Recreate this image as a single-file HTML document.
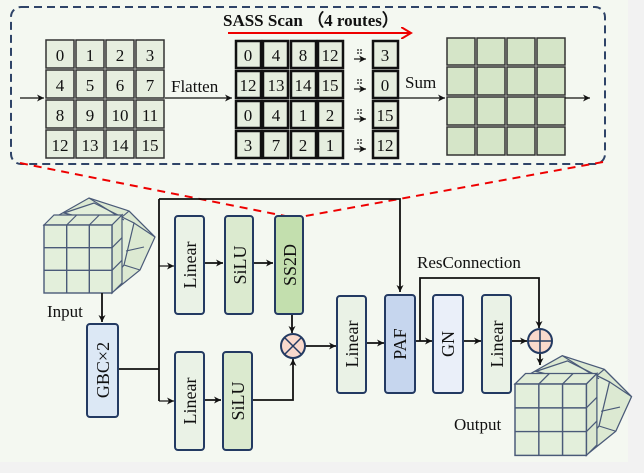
<!DOCTYPE html>
<html><head><meta charset="utf-8"><style>
html,body{margin:0;padding:0;background:#f2f2f2;}
svg{display:block;font-family:"Liberation Serif",serif;}
</style></head><body>
<svg width="644" height="473" viewBox="0 0 644 473" xmlns="http://www.w3.org/2000/svg">
<defs>
<marker id="ar" markerWidth="8" markerHeight="8" refX="7" refY="4" orient="auto" markerUnits="userSpaceOnUse"><path d="M0,0.5 L7,4 L0,7.5 L2,4 Z" fill="#111"/></marker>
<marker id="rr" markerWidth="12" markerHeight="12" refX="10" refY="6" orient="auto" markerUnits="userSpaceOnUse"><path d="M0,0 L10,6 L0,12" fill="none" stroke="#e00" stroke-width="2"/></marker>
<g id="cube">
 <polygon points="15,-10 45,-27 85,-14 111,12 96,45 70,66 68,0" fill="#dce9d2" stroke="#4a5a78" stroke-width="1.2"/>
 <polygon points="20,-12 50,-22 90,-2 80,40 68,55 68,0" fill="#e2eeda" stroke="#4a5a78" stroke-width="1.2"/>
 <path d="M45,-27L80,-5M85,-14L111,12M90,-2L111,12M85,-14L78,-8M96,45L80,40M100,22L82,26" stroke="#4a5a78" stroke-width="1.1" fill="none"/>
 <polygon points="0,0 10,-10 78,-10 68,0" fill="#e1edd8" stroke="#4a5a78" stroke-width="1.2"/>
 <polygon points="68,0 78,-10 78,58 68,68" fill="#dae7d0" stroke="#4a5a78" stroke-width="1.2"/>
 <line x1="22.7" y1="0" x2="32.7" y2="-10" stroke="#4a5a78" stroke-width="1.2"/>
 <line x1="45.3" y1="0" x2="55.3" y2="-10" stroke="#4a5a78" stroke-width="1.2"/>
 <line x1="68" y1="22.7" x2="78" y2="12.7" stroke="#4a5a78" stroke-width="1.2"/>
 <line x1="68" y1="45.3" x2="78" y2="35.3" stroke="#4a5a78" stroke-width="1.2"/>
 <rect x="0" y="0" width="68" height="68" fill="#e3efdb" stroke="#4a5a78" stroke-width="1.4"/>
 <path d="M22.7,0V68M45.3,0V68M0,22.7H68M0,45.3H68" stroke="#4a5a78" stroke-width="1.4"/>
</g>
</defs>
<rect x="0" y="0" width="628" height="462" fill="#f4f8f1"/>
<rect x="11" y="7" width="594" height="157" rx="10" fill="none" stroke="#2f4468" stroke-width="2" stroke-dasharray="8,5"/>
<text x="223" y="26" font-size="17" font-weight="bold" fill="#111">SASS Scan （4 routes）</text>
<line x1="228" y1="33" x2="411" y2="33" stroke="#e00" stroke-width="2" marker-end="url(#rr)"/>
<g stroke="#333" stroke-width="1.5" fill="#e6eedf">
<rect x="46" y="40" width="28" height="28"/><rect x="76" y="40" width="28" height="28"/><rect x="106" y="40" width="28" height="28"/><rect x="136" y="40" width="28" height="28"/>
<rect x="46" y="70" width="28" height="28"/><rect x="76" y="70" width="28" height="28"/><rect x="106" y="70" width="28" height="28"/><rect x="136" y="70" width="28" height="28"/>
<rect x="46" y="100" width="28" height="28"/><rect x="76" y="100" width="28" height="28"/><rect x="106" y="100" width="28" height="28"/><rect x="136" y="100" width="28" height="28"/>
<rect x="46" y="130" width="28" height="28"/><rect x="76" y="130" width="28" height="28"/><rect x="106" y="130" width="28" height="28"/><rect x="136" y="130" width="28" height="28"/>
</g>
<g stroke="#111" stroke-width="2.5" fill="#e6eedf">
<rect x="236" y="41" width="25" height="27"/><rect x="263" y="41" width="25" height="27"/><rect x="291" y="41" width="25" height="27"/><rect x="318" y="41" width="25" height="27"/>
<rect x="236" y="71" width="25" height="27"/><rect x="263" y="71" width="25" height="27"/><rect x="291" y="71" width="25" height="27"/><rect x="318" y="71" width="25" height="27"/>
<rect x="236" y="101" width="25" height="27"/><rect x="263" y="101" width="25" height="27"/><rect x="291" y="101" width="25" height="27"/><rect x="318" y="101" width="25" height="27"/>
<rect x="236" y="131" width="25" height="27"/><rect x="263" y="131" width="25" height="27"/><rect x="291" y="131" width="25" height="27"/><rect x="318" y="131" width="25" height="27"/>
<rect x="373" y="41" width="25" height="27"/><rect x="373" y="71" width="25" height="27"/><rect x="373" y="101" width="25" height="27"/><rect x="373" y="131" width="25" height="27"/>
</g>
<g stroke="#333" stroke-width="1.5" fill="#d5e5c8">
<rect x="447" y="38" width="28" height="27"/><rect x="477" y="38" width="28" height="27"/><rect x="507" y="38" width="28" height="27"/><rect x="537" y="38" width="28" height="27"/>
<rect x="447" y="67" width="28" height="28"/><rect x="477" y="67" width="28" height="28"/><rect x="507" y="67" width="28" height="28"/><rect x="537" y="67" width="28" height="28"/>
<rect x="447" y="97" width="28" height="28"/><rect x="477" y="97" width="28" height="28"/><rect x="507" y="97" width="28" height="28"/><rect x="537" y="97" width="28" height="28"/>
<rect x="447" y="127" width="28" height="28"/><rect x="477" y="127" width="28" height="28"/><rect x="507" y="127" width="28" height="28"/><rect x="537" y="127" width="28" height="28"/>
</g>
<g font-size="17" fill="#111" text-anchor="middle">
<text x="60" y="61">0</text><text x="90" y="61">1</text><text x="120" y="61">2</text><text x="150" y="61">3</text>
<text x="60" y="91">4</text><text x="90" y="91">5</text><text x="120" y="91">6</text><text x="150" y="91">7</text>
<text x="60" y="121">8</text><text x="90" y="121">9</text><text x="120" y="121">10</text><text x="150" y="121">11</text>
<text x="60" y="151">12</text><text x="90" y="151">13</text><text x="120" y="151">14</text><text x="150" y="151">15</text>
<text x="248" y="61">0</text><text x="276" y="61">4</text><text x="303" y="61">8</text><text x="330" y="61">12</text>
<text x="248" y="91">12</text><text x="276" y="91">13</text><text x="303" y="91">14</text><text x="330" y="91">15</text>
<text x="248" y="121">0</text><text x="276" y="121">4</text><text x="303" y="121">1</text><text x="330" y="121">2</text>
<text x="248" y="151">3</text><text x="276" y="151">7</text><text x="303" y="151">2</text><text x="330" y="151">1</text>
<text x="385" y="61">3</text><text x="385" y="91">0</text><text x="385" y="121">15</text><text x="385" y="151">12</text>
</g>
<g fill="#111">
<circle cx="358" cy="50" r="0.9"/><circle cx="361" cy="50" r="0.9"/><circle cx="358" cy="53" r="0.9"/><circle cx="361" cy="53" r="0.9"/>
<circle cx="358" cy="80" r="0.9"/><circle cx="361" cy="80" r="0.9"/><circle cx="358" cy="83" r="0.9"/><circle cx="361" cy="83" r="0.9"/>
<circle cx="358" cy="110" r="0.9"/><circle cx="361" cy="110" r="0.9"/><circle cx="358" cy="113" r="0.9"/><circle cx="361" cy="113" r="0.9"/>
<circle cx="358" cy="140" r="0.9"/><circle cx="361" cy="140" r="0.9"/><circle cx="358" cy="143" r="0.9"/><circle cx="361" cy="143" r="0.9"/>
</g>
<g stroke="#111" stroke-width="1.2" marker-end="url(#ar)">
<line x1="354" y1="59" x2="366" y2="59"/><line x1="354" y1="89" x2="366" y2="89"/><line x1="354" y1="119" x2="366" y2="119"/><line x1="354" y1="149" x2="366" y2="149"/>
<line x1="20" y1="98" x2="44" y2="98"/><line x1="165" y1="98" x2="232" y2="98"/><line x1="399" y1="98" x2="445" y2="98"/><line x1="565" y1="98" x2="590" y2="98"/>
</g>
<text x="171" y="92" font-size="17" fill="#111">Flatten</text>
<text x="405" y="88" font-size="17" fill="#111">Sum</text>
<line x1="20" y1="163" x2="290" y2="217" stroke="#e00" stroke-width="2" stroke-dasharray="8,6"/>
<line x1="603" y1="162" x2="300" y2="217" stroke="#e00" stroke-width="2" stroke-dasharray="8,6"/>
<use href="#cube" x="44" y="225"/>
<use href="#cube" transform="translate(515,384) scale(1.05)"/>
<text x="47" y="317" font-size="17" fill="#111">Input</text>
<text x="454" y="430" font-size="17" fill="#111">Output</text>
<g stroke="#111" stroke-width="1.8" fill="none">
<line x1="102" y1="293" x2="102" y2="322" marker-end="url(#ar)"/>
<polyline points="118,369 159,369"/>
<polyline points="159,199 400,199 400,292" marker-end="url(#ar)"/>
<line x1="159" y1="199" x2="159" y2="401"/>
<line x1="159" y1="266" x2="174" y2="266" marker-end="url(#ar)" stroke-width="1.2"/>
<line x1="159" y1="401" x2="174" y2="401" marker-end="url(#ar)" stroke-width="1.2"/>
<line x1="204" y1="263" x2="223" y2="263" marker-end="url(#ar)"/>
<line x1="253" y1="263" x2="273" y2="263" marker-end="url(#ar)"/>
<line x1="204" y1="400" x2="221" y2="400" marker-end="url(#ar)"/>
<line x1="292" y1="314" x2="292" y2="333" marker-end="url(#ar)"/>
<polyline points="252,400 293,400 293,359" marker-end="url(#ar)"/>
<line x1="305" y1="346" x2="336" y2="346" marker-end="url(#ar)"/>
<line x1="366" y1="343" x2="384" y2="343" marker-end="url(#ar)"/>
<line x1="415" y1="341" x2="432" y2="341" marker-end="url(#ar)"/>
<line x1="463" y1="341" x2="481" y2="341" marker-end="url(#ar)"/>
<line x1="511" y1="341" x2="527" y2="341" marker-end="url(#ar)"/>
<polyline points="420,341 420,278 539,278 539,328" marker-end="url(#ar)"/>
<line x1="540" y1="353" x2="540" y2="365" marker-end="url(#ar)"/>
</g>
<text x="417" y="268" font-size="17" fill="#111">ResConnection</text>
<g stroke="#233a62" stroke-width="2">
<rect x="87" y="324" width="31" height="93" rx="3" fill="#dce8f5"/>
<rect x="175" y="216" width="29" height="98" rx="3" fill="#eaf2e6"/>
<rect x="225" y="216" width="28" height="98" rx="3" fill="#dbeacf"/>
<rect x="275" y="216" width="28" height="98" rx="3" fill="#c3dfae"/>
<rect x="175" y="352" width="29" height="98" rx="3" fill="#eaf2e6"/>
<rect x="223" y="352" width="29" height="98" rx="3" fill="#dbeacf"/>
<rect x="337" y="296" width="29" height="97" rx="3" fill="#eaf2e6"/>
<rect x="385" y="295" width="30" height="98" rx="3" fill="#c6d6ee"/>
<rect x="433" y="295" width="30" height="98" rx="3" fill="#eaeff9"/>
<rect x="482" y="295" width="29" height="98" rx="3" fill="#eaf2e6"/>
<circle cx="293" cy="346" r="12" fill="#f9d9cc"/>
<circle cx="540" cy="341" r="12" fill="#f9d9cc"/>
</g>
<path d="M284.5,337.5L301.5,354.5M301.5,337.5L284.5,354.5" stroke="#233a62" stroke-width="1.5"/>
<path d="M528,341H552M540,329V353" stroke="#233a62" stroke-width="1.5"/>
<g font-size="18" fill="#111" text-anchor="middle">
<text transform="translate(109,370) rotate(-90)">GBC×2</text>
<text transform="translate(196,265) rotate(-90)">Linear</text>
<text transform="translate(246,265) rotate(-90)">SiLU</text>
<text transform="translate(296,265) rotate(-90)">SS2D</text>
<text transform="translate(196,401) rotate(-90)">Linear</text>
<text transform="translate(244,401) rotate(-90)">SiLU</text>
<text transform="translate(358,344) rotate(-90)">Linear</text>
<text transform="translate(406,344) rotate(-90)">PAF</text>
<text transform="translate(454,344) rotate(-90)">GN</text>
<text transform="translate(503,344) rotate(-90)">Linear</text>
</g>
</svg>
</body></html>
